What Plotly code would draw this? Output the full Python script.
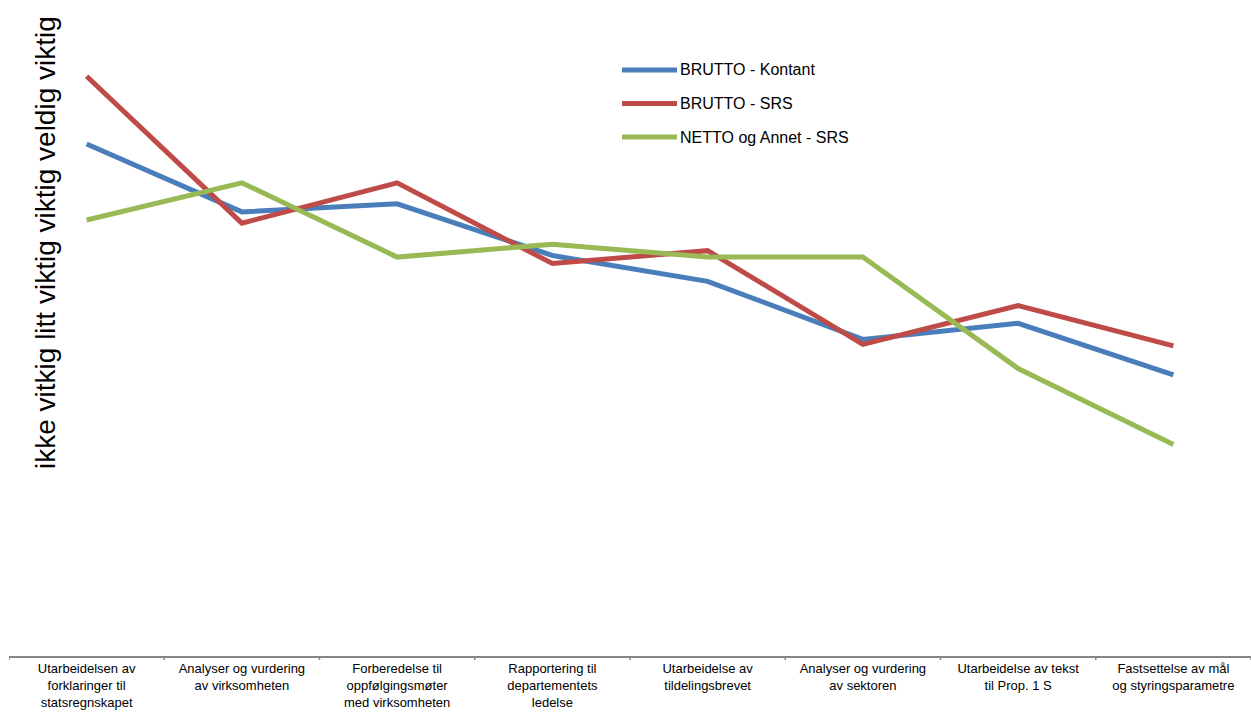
import plotly.graph_objects as go

# Task categories along the x axis (wrapped labels)
categories = [
    "Utarbeidelsen av<br>forklaringer til<br>statsregnskapet",
    "Analyser og vurdering<br>av virksomheten",
    "Forberedelse til<br>oppfølgingsmøter<br>med virksomheten",
    "Rapportering til<br>departementets<br>ledelse",
    "Utarbeidelse av<br>tildelingsbrevet",
    "Analyser og vurdering<br>av sektoren",
    "Utarbeidelse av tekst<br>til Prop. 1 S",
    "Fastsettelse av mål<br>og styringsparametre",
]

# Average importance per group
brutto_kontant = [3.17, 2.75, 2.80, 2.48, 2.32, 1.96, 2.06, 1.74]
brutto_srs = [3.59, 2.68, 2.93, 2.43, 2.51, 1.93, 2.17, 1.92]
netto_annet_srs = [2.70, 2.93, 2.47, 2.55, 2.47, 2.47, 1.78, 1.31]

series_names = ["BRUTTO - Kontant", "BRUTTO - SRS", "NETTO og Annet - SRS"]
series_values = [brutto_kontant, brutto_srs, netto_annet_srs]
colors = ["#4A7EBB", "#BE4B48", "#98B954"]

W, H = 1251, 718
ML, MR, MT, MB = 9, 0, 10, 62
PW, PH = W - ML - MR, H - MT - MB


def px_x(x):
    return (x - ML) / PW


def px_y(y):
    return (H - MB - y) / PH


fig = go.Figure()
for name, vals, col in zip(series_names, series_values, colors):
    fig.add_trace(go.Scatter(
        x=list(range(len(categories))), y=vals, mode="lines", name=name,
        line=dict(color=col, width=5),
        showlegend=False,
    ))

# Legend drawn as line samples with labels
shapes = []
annotations = []
for i, (name, col) in enumerate(zip(series_names, colors)):
    ly = px_y(70 + i * 33.5)
    shapes.append(dict(type="line", xref="paper", yref="paper",
                       x0=px_x(622), x1=px_x(677), y0=ly, y1=ly,
                       line=dict(color=col, width=5)))
    annotations.append(dict(xref="paper", yref="paper", x=px_x(678), y=ly,
                            text=name, showarrow=False, xanchor="left",
                            yanchor="middle",
                            font=dict(family="Liberation Sans, Arial", size=16,
                                      color="#000000")))

# Vertical axis caption
annotations.append(dict(xref="paper", yref="paper", x=px_x(46), y=px_y(243),
                        text="ikke vitkig litt viktig viktig veldig viktig",
                        textangle=-90, showarrow=False,
                        xanchor="center", yanchor="middle",
                        font=dict(family="Liberation Sans, Arial", size=28,
                                  color="#000000")))

fig.update_layout(
    width=W, height=H,
    margin=dict(l=ML, r=MR, t=MT, b=MB, autoexpand=False),
    paper_bgcolor="white", plot_bgcolor="white",
    shapes=shapes, annotations=annotations,
    font=dict(family="Liberation Sans, Arial", size=13, color="#000000"),
)
fig.update_xaxes(
    range=[-0.5, len(categories) - 0.5], autorange=False,
    tickmode="array", tickvals=list(range(len(categories))), ticktext=categories,
    showline=True, linecolor="#868686", linewidth=1.5,
    ticks="", showgrid=False, zeroline=False, tickangle=0, automargin=False,
    tickfont=dict(family="Liberation Sans, Arial", size=13, color="#000000"),
)
# Tick marks on category boundaries
for b in range(len(categories) + 1):
    fig.add_shape(type="line", xref="x", yref="paper",
                  x0=b - 0.5, x1=b - 0.5, y0=0, y1=-4 / PH,
                  line=dict(color="#868686", width=1.5))
fig.update_yaxes(range=[0, 4], showgrid=False, zeroline=False,
                 showticklabels=False, showline=False, ticks="",
                 automargin=False)

fig.write_html("out.html")
